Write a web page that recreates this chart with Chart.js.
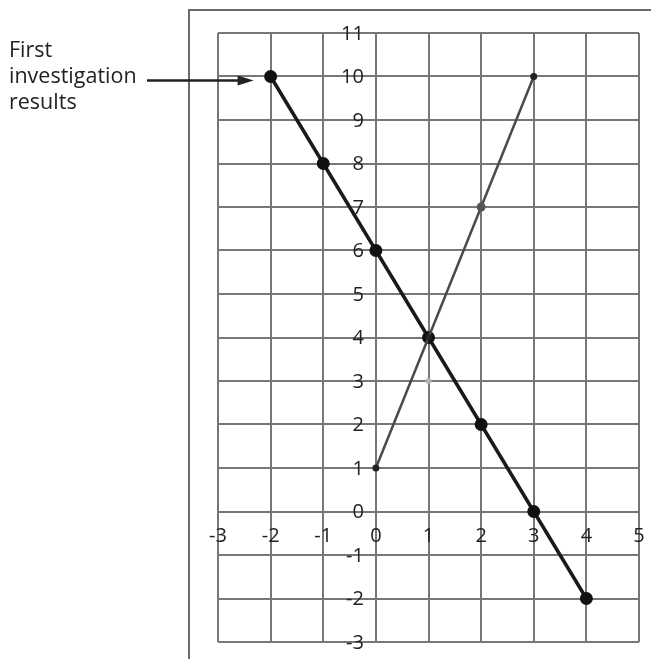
<!DOCTYPE html>
<html>
<head>
<meta charset="utf-8">
<script src="https://cdn.jsdelivr.net/npm/chart.js@4.4.1/dist/chart.umd.min.js"></script>
<style>
  html, body { margin: 0; padding: 0; background: #fff; }
  #wrap { width: 651px; height: 659px; }
</style>
</head>
<body>
<div id="wrap"><canvas id="graph"></canvas></div>
<script>
// first investigation: y falls by 2 for each step in x
const firstX = [-2, -1, 0, 1, 2, 3, 4];
const firstY = [10, 8, 6, 4, 2, 0, -2];

// second line: y rises by 3 for each step in x
const secondX = [0, 1, 2, 3];
const secondY = [1, 4, 7, 10];

// stray faint mark
const strayX = [1];
const strayY = [3];

const xTicks = [-3, -2, -1, 0, 1, 2, 3, 4, 5];
const yTicks = [-3, -2, -1, 0, 1, 2, 3, 4, 5, 6, 7, 8, 9, 10, 11];

const labelLines = ["First", "investigation", "results"];

const FONT = "'Open Sans', sans-serif";
const INK = "#222";

function toPoints(xs, ys) {
  return xs.map((x, i) => ({ x: x, y: ys[i] }));
}

// numbers sit along the axes through the origin, under the data lines
const axisNumbers = {
  id: "axisNumbers",
  beforeDatasetsDraw(chart) {
    const ctx = chart.ctx;
    const xs = chart.scales.x;
    const ys = chart.scales.y;
    const x0 = xs.getPixelForValue(0);
    const y0 = ys.getPixelForValue(0);
    ctx.save();
    ctx.fillStyle = INK;
    ctx.font = "20px " + FONT;
    ctx.textBaseline = "middle";

    ctx.textAlign = "right";
    yTicks.forEach((v) => ctx.fillText(String(v), x0 - 12, ys.getPixelForValue(v) + 1));

    ctx.textAlign = "center";
    xTicks.forEach((v) => ctx.fillText(String(v), xs.getPixelForValue(v), y0 + 25));
    ctx.restore();
  }
};

const framePlugin = {
  id: "frame",
  afterDraw(chart) {
    const ctx = chart.ctx;
    const xs = chart.scales.x;
    const ys = chart.scales.y;
    ctx.save();

    // outer box edges
    ctx.strokeStyle = "#6a6a6a";
    ctx.lineWidth = 2;
    ctx.beginPath();
    ctx.moveTo(189, 659);
    ctx.lineTo(189, 10);
    ctx.lineTo(651, 10);
    ctx.stroke();

    // caption with arrow to the first point
    ctx.fillStyle = INK;
    ctx.font = "21.5px " + FONT;
    ctx.textBaseline = "middle";
    ctx.textAlign = "left";
    labelLines.forEach((t, i) => ctx.fillText(t, 9, 51 + i * 26));

    const tx = xs.getPixelForValue(firstX[0]) - 17;
    const ty = ys.getPixelForValue(firstY[0]);
    ctx.strokeStyle = INK;
    ctx.lineWidth = 2.5;
    ctx.beginPath();
    ctx.moveTo(147, ty + 4);
    ctx.lineTo(tx - 10, ty + 4);
    ctx.stroke();
    ctx.beginPath();
    ctx.moveTo(tx, ty + 4);
    ctx.lineTo(tx - 16, ty - 1);
    ctx.lineTo(tx - 16, ty + 9);
    ctx.closePath();
    ctx.fill();
    ctx.restore();
  }
};

new Chart(document.getElementById("graph"), {
  type: "scatter",
  data: {
    datasets: [
      {
        label: "stray",
        data: toPoints(strayX, strayY),
        pointRadius: 3,
        pointBackgroundColor: "#b5b5b5",
        pointBorderWidth: 0,
        showLine: false
      },
      {
        label: "second",
        data: toPoints(secondX, secondY),
        showLine: true,
        borderColor: "#4a4a4a",
        borderWidth: 2.5,
        pointRadius: [3.5, 3, 4.5, 3.5],
        pointBackgroundColor: ["#222", "#222", "#555", "#222"],
        pointBorderWidth: 0
      },
      {
        label: "first",
        data: toPoints(firstX, firstY),
        showLine: true,
        borderColor: "#1a1a1a",
        borderWidth: 3.5,
        pointRadius: 6.5,
        pointBackgroundColor: "#111",
        pointBorderWidth: 0
      }
    ]
  },
  options: {
    responsive: true,
    maintainAspectRatio: false,
    animation: false,
    layout: { padding: { left: 218, right: 12, top: 33, bottom: 17 } },
    plugins: {
      legend: { display: false },
      tooltip: { enabled: false }
    },
    scales: {
      x: {
        type: "linear",
        min: xTicks[0],
        max: xTicks[xTicks.length - 1],
        afterBuildTicks(scale) {
          scale.ticks = xTicks.map((v) => ({ value: v }));
        },
        border: { display: false },
        grid: { color: "#777", lineWidth: 2, drawTicks: false },
        ticks: { display: false }
      },
      y: {
        type: "linear",
        min: yTicks[0],
        max: yTicks[yTicks.length - 1],
        afterBuildTicks(scale) {
          scale.ticks = yTicks.map((v) => ({ value: v }));
        },
        border: { display: false },
        grid: { color: "#777", lineWidth: 2, drawTicks: false },
        ticks: { display: false }
      }
    }
  },
  plugins: [axisNumbers, framePlugin]
});
</script>
</body>
</html>
